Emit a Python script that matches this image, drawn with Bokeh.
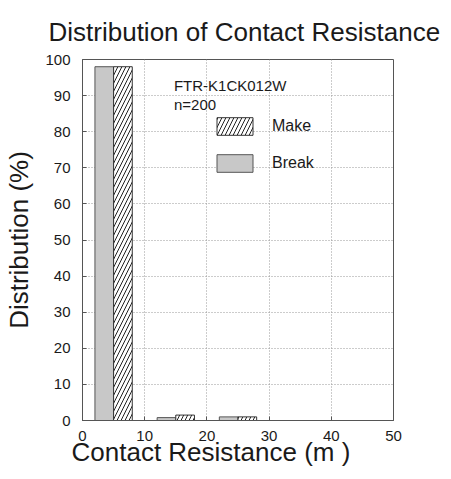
from bokeh.plotting import figure
from bokeh.models import Legend, LegendItem, Label, ColumnDataSource, Title
from bokeh.embed import file_html
from bokeh.resources import INLINE

# Data
bin_centers = [5, 15, 25]
break_vals = [98, 0.8, 1.0]
make_vals = [98, 1.5, 1.0]
x_ticks = [0, 10, 20, 30, 40, 50]
y_ticks = list(range(0, 101, 10))
title = "Distribution of Contact Resistance"
x_title = "Contact Resistance (m )"
y_title = "Distribution (%)"

FONT = "Liberation Sans"
TXT = "#1a1a1a"

p = figure(width=450, height=478, output_backend="svg", toolbar_location=None,
           x_range=(0, 50), y_range=(0, 100),
           min_border_left=82, min_border_right=57, min_border_top=59, min_border_bottom=58)
p.title.visible = False

p.add_layout(Title(text=title, text_font=FONT, text_font_size="26px",
                   text_font_style="normal", text_color=TXT, align="left",
                   offset=-34, standoff=25), "above")

# x-axis title, a little left of the frame centre as in the reference
p.add_layout(Title(text=x_title, text_font=FONT, text_font_size="26px",
                   text_font_style="normal", text_color=TXT, align="left",
                   offset=-11, standoff=-18), "below")

src = ColumnDataSource(dict(
    xb=[c - 1.5 for c in bin_centers],
    xm=[c + 1.5 for c in bin_centers],
    b=break_vals, m=make_vals))

rb = p.vbar(x="xb", top="b", width=3, source=src, fill_color="#c8c8c8",
            line_color="#555555", line_width=1)
rm = p.vbar(x="xm", top="m", width=3, source=src, fill_color="white",
            line_color="#333333", line_width=1, hatch_pattern="/",
            hatch_color="#222222", hatch_scale=8, hatch_weight=1)

legend = Legend(items=[LegendItem(label="Make", renderers=[rm]),
                       LegendItem(label="Break", renderers=[rb])],
                location=(130, 246), glyph_width=45, glyph_height=22,
                spacing=15, label_standoff=15, padding=0, margin=0,
                background_fill_alpha=0, border_line_alpha=0,
                label_text_font=FONT, label_text_font_size="16px",
                label_text_color=TXT)
p.add_layout(legend, "center")

for txt, yy in [("FTR-K1CK012W", 92.8), ("n=200", 87.5)]:
    p.add_layout(Label(x=14.7, y=yy, text=txt, text_font=FONT,
                       text_font_size="15px", text_color=TXT,
                       text_baseline="alphabetic"))

p.xaxis.ticker = x_ticks
p.yaxis.ticker = y_ticks
p.yaxis.axis_label = y_title
for ax in (p.xaxis, p.yaxis):
    ax.axis_label_text_font = FONT
    ax.axis_label_text_font_size = "26px"
    ax.axis_label_text_font_style = "normal"
    ax.axis_label_text_color = TXT
    ax.major_label_text_font = FONT
    ax.major_label_text_font_size = "15px"
    ax.major_label_text_color = TXT
    ax.axis_line_color = "#555555"
    ax.major_tick_line_color = "#555555"
    ax.major_tick_in = 4
    ax.major_tick_out = 0
    ax.minor_tick_line_color = None
p.xaxis.major_label_standoff = 10
p.yaxis.major_label_standoff = 12
p.yaxis.axis_label_standoff = 8

p.xgrid.ticker = x_ticks
p.ygrid.ticker = y_ticks
p.grid.grid_line_color = "#999999"
p.grid.grid_line_dash = "1 2"
p.outline_line_color = "#555555"

open("out.html", "w").write(file_html(p, INLINE))
